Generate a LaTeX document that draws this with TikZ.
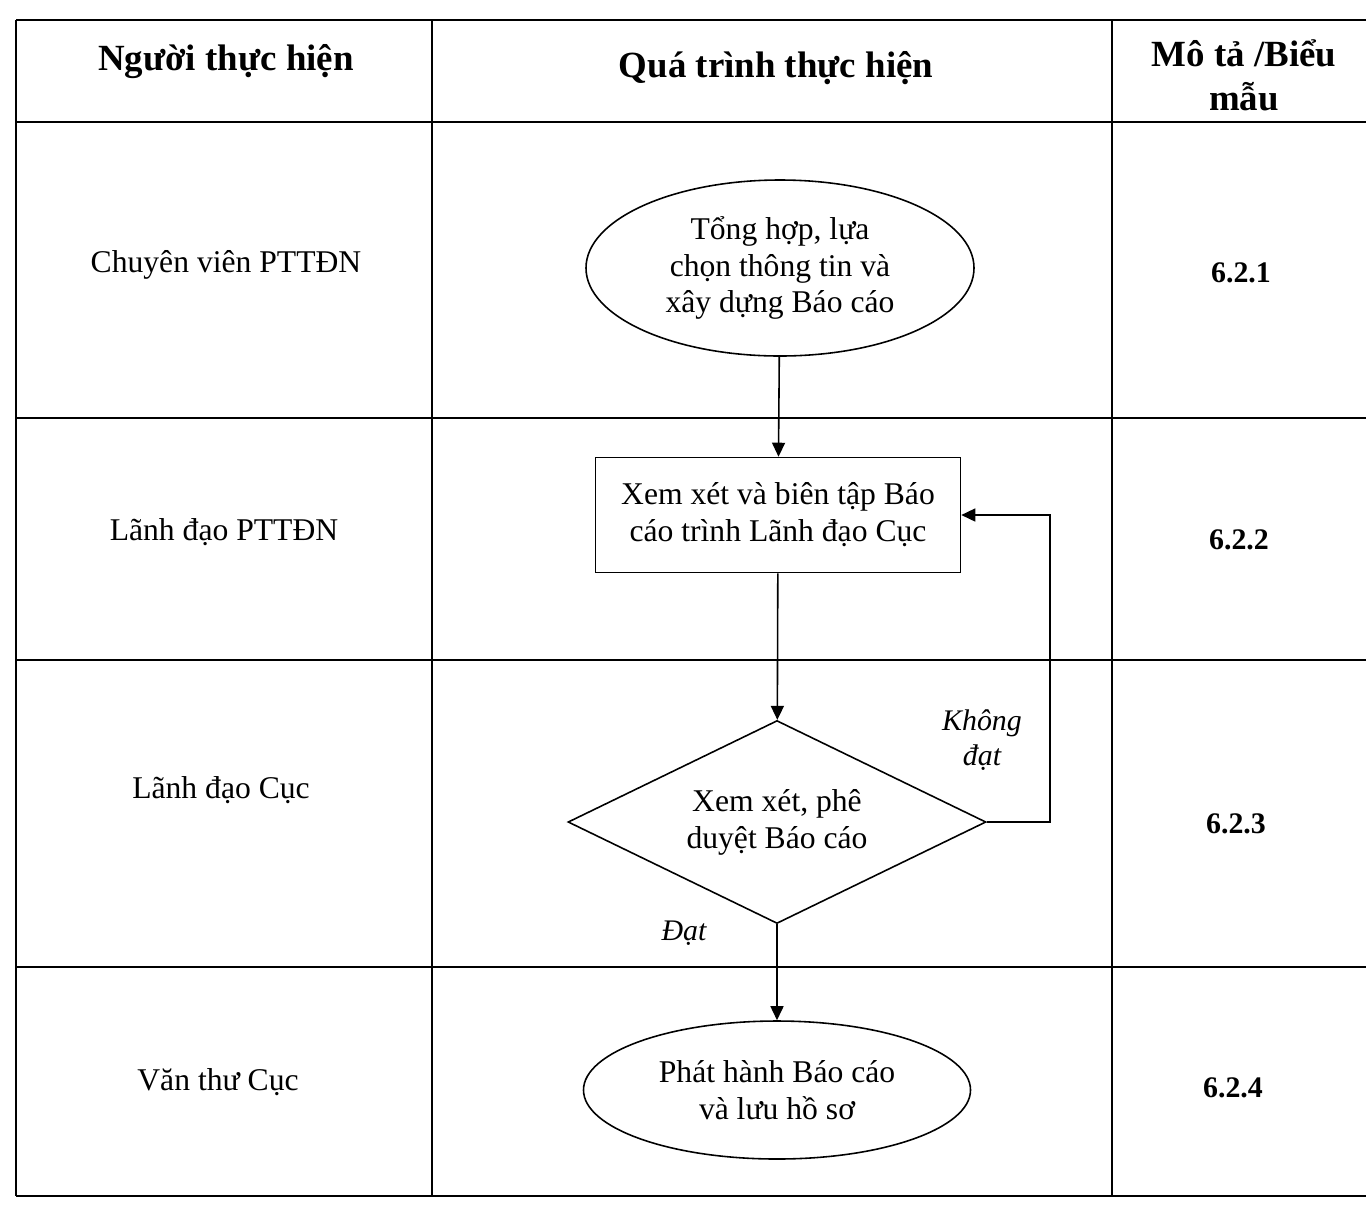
\documentclass[tikz,border=0pt]{standalone}
\usepackage{fontspec}
\setmainfont{Liberation Serif}
\usetikzlibrary{shapes.geometric,arrows.meta}
\tikzset{
  head/.style={font=\fontsize{21}{25}\selectfont\bfseries,align=center},
  role/.style={font=\fontsize{18}{21}\selectfont},
  refno/.style={font=\fontsize{17}{20}\selectfont\bfseries},
  term/.style={draw,ellipse,line width=0.9pt,align=center,inner sep=0pt,font=\fontsize{18}{21}\selectfont},
  proc/.style={draw,rectangle,line width=0.9pt,align=center,inner sep=0pt,font=\fontsize{18}{21}\selectfont},
  decide/.style={draw,diamond,aspect=2.06,line width=0.9pt,align=center,inner sep=0pt,font=\fontsize{18}{21}\selectfont},
  cond/.style={font=\fontsize{17}{20}\selectfont\itshape,align=center},
  flow/.style={-{Triangle[length=2.8mm,width=2.6mm]},line width=0.9pt}
}
\begin{document}
\begin{tikzpicture}[x=0.2mm,y=-0.2mm]
\useasboundingbox (0,0) rectangle (1366,1206);
% table
\foreach \y in {20,122,418,660,967,1196}
  \draw [line width=0.9pt] (16,\y) -- (1366,\y);
\foreach \x in {16,432,1112}
  \draw [line width=0.9pt] (\x,20) -- (\x,1196);
% header
\node[head] (hnguoi) at (226,62) {Người thực hiện};
\node[head] (hquatrinh) at (776,68) {Quá trình thực hiện};
\node[head] (hmota) at (1244,75) {Mô tả /Biểu\\mẫu};
% roles
\node[role] (cv) at (226,265) {Chuyên viên PTTĐN};
\node[role] (ldp) at (224,532) {Lãnh đạo PTTĐN};
\node[role] (ldc) at (221,790) {Lãnh đạo Cục};
\node[role] (vt) at (218,1082) {Văn thư Cục};
% steps
\node[refno] (b1) at (1241,273) {6.2.1};
\node[refno] (b2) at (1239,540) {6.2.2};
\node[refno] (b3) at (1236,824) {6.2.3};
\node[refno] (b4) at (1233,1088) {6.2.4};
% flow
\node[term,minimum width=77.6mm,minimum height=35.2mm] (tonghop) at (780,268) {Tổng hợp, lựa\\chọn thông tin và\\xây dựng Báo cáo};
\node[proc,minimum width=73mm,minimum height=23mm] (bientap) at (778,515) {Xem xét và biên tập Báo\\cáo trình Lãnh đạo Cục};
\node[decide,minimum width=83.6mm,minimum height=40.6mm] (pheduyet) at (777,822) {Xem xét, phê\\duyệt Báo cáo};
\node[term,minimum width=77.4mm,minimum height=27.6mm] (phathanh) at (777,1090) {Phát hành Báo cáo\\và lưu hồ sơ};
\coordinate (vong) at (1050,822);
\draw[flow] (tonghop) -- (bientap);
\draw[flow] (bientap) -- (pheduyet);
\draw[flow] (pheduyet) -- (phathanh);
\draw[flow] (pheduyet.east) -- (vong) |- (bientap.east);
\node[cond] (khongdat) at (982,740) {Không\\đạt};
\node[cond] (dat) at (684,933) {Đạt};
\end{tikzpicture}
\end{document}
